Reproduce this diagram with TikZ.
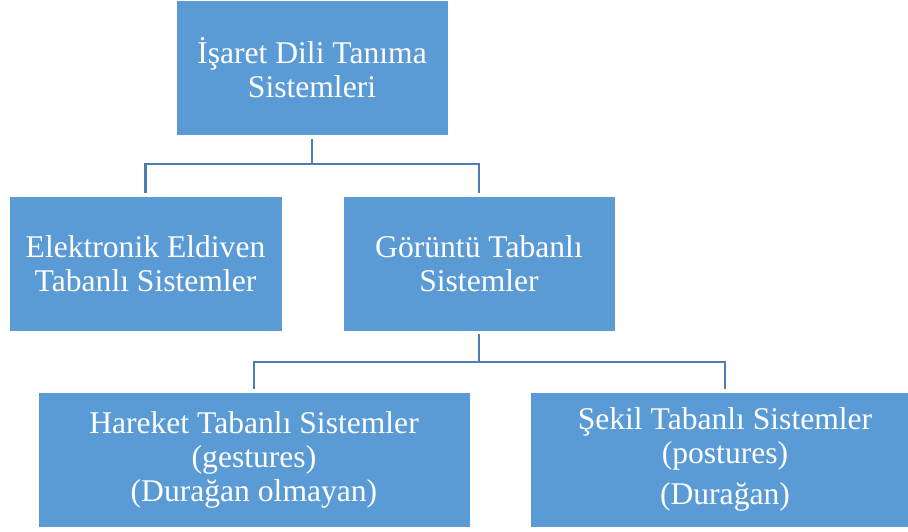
\documentclass[tikz,border=0pt]{standalone}
\usepackage{fontspec}
\setmainfont{Liberation Serif}
\usepackage{xcolor}
\usetikzlibrary{positioning}
\definecolor{boxblue}{HTML}{5B9BD5}
\definecolor{linkblue}{HTML}{4A7EB5}

\tikzset{
	box/.style={draw=white, line width=0.8pt, fill=boxblue, text=white, inner sep=0pt,
		minimum height=135pt, align=center, font=\fontsize{31.6}{34}\selectfont},
	link/.style={draw=linkblue, line width=2.6pt, shorten >=3pt},
	stem/.style={link, shorten <=3pt}
}

\begin{document}
\begin{tikzpicture}[x=1pt, y=-1pt]
	\useasboundingbox (0,0) rectangle (908,532);
	\clip (0,0) rectangle (908,532);
	
	\node[box, minimum width=272pt] (isaret) at (312,68) {İşaret Dili Tanıma\\Sistemleri};
	
	\node[box, minimum width=273pt] (eldiven) at (145.5,263.5) {Elektronik Eldiven\\Tabanlı Sistemler};
	\node[box, minimum width=272pt] (goruntu) at (479,263.5) {Görüntü Tabanlı\\Sistemler};
	
	\node[box, minimum width=432pt] (hareket) at (254,459.5) {Hareket Tabanlı Sistemler\\(gestures)\\(Durağan olmayan)};
	\node[box, minimum width=390pt] (sekil) at (725,459.5) {Şekil Tabanlı Sistemler\\(postures)\\[7pt](Durağan)};
	
	\coordinate (bus1) at (312,164);
	\coordinate (bus2) at (479,362);
	
	\draw[stem] (isaret.south) -- (bus1) -| (eldiven.north);
	\draw[link] (bus1) -| (goruntu.north);
	\draw[stem] (goruntu.south) -- (bus2) -| (hareket.north);
	\draw[link] (bus2) -| (sekil.north);
\end{tikzpicture}
\end{document}
